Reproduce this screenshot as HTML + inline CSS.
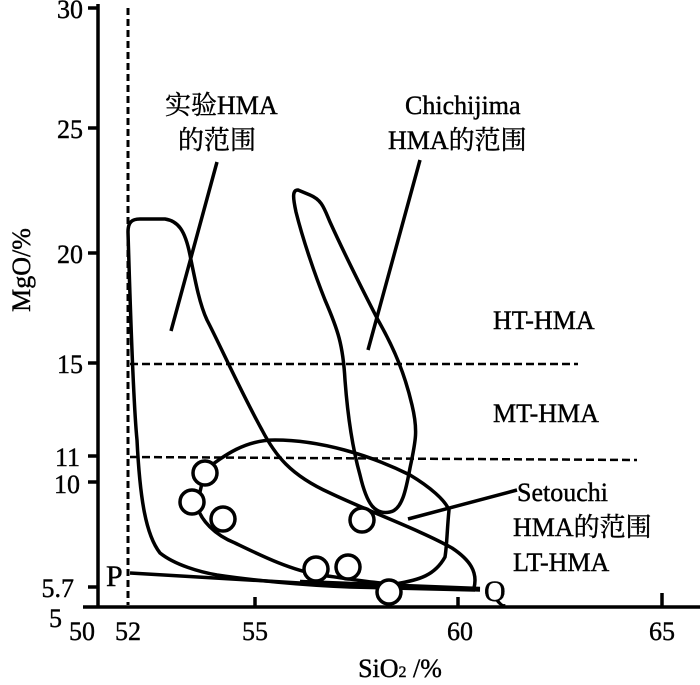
<!DOCTYPE html>
<html><head><meta charset="utf-8"><style>
html,body{margin:0;padding:0;background:#fff}
svg text{font-family:"Liberation Serif","Noto Serif CJK SC",serif;fill:#000;stroke:#000;stroke-width:0.4}
</style></head><body>
<svg width="700" height="680" viewBox="0 0 700 680" xmlns="http://www.w3.org/2000/svg">
<g stroke="#000" fill="none">
<line x1="98" y1="4" x2="98" y2="607" stroke-width="3.5"/>
<line x1="83" y1="607" x2="700" y2="607" stroke-width="3.5"/>
<g stroke-width="3.5">
<line x1="88" y1="8" x2="98" y2="8"/>
<line x1="88" y1="128" x2="98" y2="128"/>
<line x1="88" y1="253" x2="98" y2="253"/>
<line x1="88" y1="363" x2="98" y2="363"/>
<line x1="88" y1="456" x2="98" y2="456"/>
<line x1="88" y1="482" x2="98" y2="482"/>
<line x1="88" y1="587" x2="98" y2="587"/>
<line x1="255" y1="597" x2="255" y2="607"/>
<line x1="458" y1="597" x2="458" y2="607"/>
<line x1="662" y1="593" x2="662" y2="607"/>
</g>
<line x1="128" y1="8" x2="128" y2="605" stroke-width="3" stroke-dasharray="7,4"/>
<line x1="130" y1="364" x2="578" y2="364" stroke-width="2.5" stroke-dasharray="8,4"/>
<line x1="130" y1="457" x2="637" y2="460" stroke-width="2.5" stroke-dasharray="8,4"/>
<path d="M128,232 C128,222 132,219 140,219 L165,219 C178,221 185,230 190,255 C196,285 200,305 207,320 C220,345 240,390 262,430 C275,455 290,475 330,493 C370,512 420,530 452,548 C470,560 478,572 474,588" stroke-width="3.5"/>
<path d="M128,232 C130,300 133,400 137,440 C140,500 146,535 160,553 C175,565 200,572 217,575 C250,580 300,585 350,587 L475,590" stroke-width="3.5"/>
<path d="M130,573 L300,583 L480,590" stroke-width="3.5"/>
<path d="M300,582 L480,589" stroke-width="4.5"/>
<path d="M298,190 C292,190 293,198 296,212 C303,240 315,275 325,300 C338,330 343,345 345,380 C348,420 353,450 360,475 C367,505 375,515 390,512 C402,510 406,490 410,468 C416,440 418,430 412,405 C405,375 395,350 378,320 C360,285 345,255 330,222 C324,208 322,200 310,195 Z" stroke-width="3.5"/>
<path d="M205,470 C225,455 245,440 275,440 C320,440 370,455 410,475 C430,487 445,500 449,510 C447,530 447,545 445,557 C435,575 420,580 395,584 C370,583 345,578 320,575 C290,570 260,555 235,543 C215,535 200,520 197,505 Z" stroke-width="3.5"/>
<line x1="171" y1="331" x2="217" y2="162" stroke-width="3.5"/>
<line x1="368" y1="350" x2="420" y2="160" stroke-width="3.5"/>
<line x1="408" y1="519" x2="517" y2="490" stroke-width="3.5"/>
<g stroke-width="3.5" fill="#fff">
<circle cx="205" cy="473" r="12"/>
<circle cx="192" cy="502" r="12"/>
<circle cx="223" cy="519" r="12"/>
<circle cx="362" cy="520" r="12"/>
<circle cx="316" cy="569" r="12"/>
<circle cx="348" cy="567" r="12"/>
<circle cx="389" cy="592" r="12"/>
</g>
</g>
<g font-size="26" text-anchor="end">
<text x="83" y="18">30</text>
<text x="83" y="138">25</text>
<text x="83" y="263">20</text>
<text x="83" y="373">15</text>
<text x="80" y="466">11</text>
<text x="80" y="493">10</text>
<text x="74" y="597">5.7</text>
<text x="62" y="627">5</text>
</g>
<g font-size="26" text-anchor="middle">
<text x="82" y="640">50</text>
<text x="128" y="640">52</text>
<text x="255" y="640">55</text>
<text x="460" y="640">60</text>
<text x="662" y="640">65</text>
</g>
<text x="400" y="677" font-size="26" text-anchor="middle">SiO<tspan font-size="16">2</tspan> /%</text>
<text transform="translate(30,270) rotate(-90)" font-size="26" text-anchor="middle">MgO/%</text>
<g font-size="26">
<text x="165" y="114">实验HMA</text>
<text x="178" y="149">的范围</text>
<text x="405" y="114">Chichijima</text>
<text x="388" y="149">HMA的范围</text>
<text x="493" y="329">HT-HMA</text>
<text x="493" y="422">MT-HMA</text>
<text x="517" y="501">Setouchi</text>
<text x="513" y="536">HMA的范围</text>
<text x="513" y="571">LT-HMA</text>
<text x="106" y="586" font-size="30">P</text>
<text x="484" y="601" font-size="30">Q</text>
</g>
</svg>
</body></html>
